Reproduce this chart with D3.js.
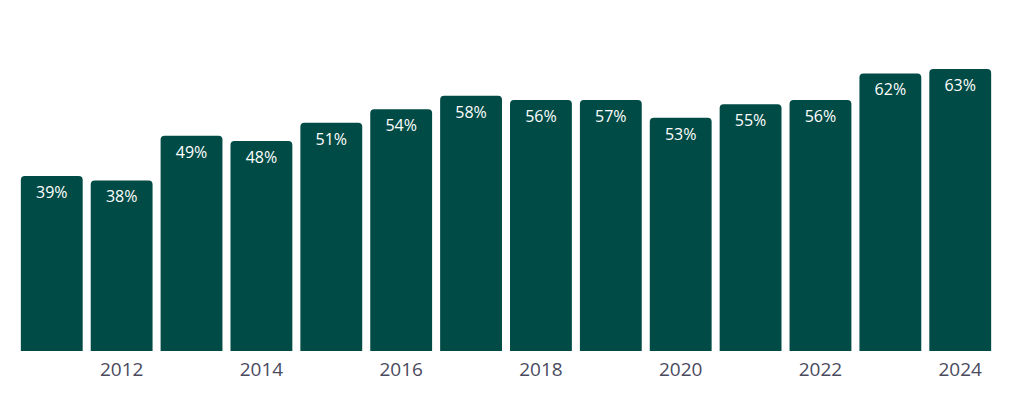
<!DOCTYPE html>
<html>
<head>
<meta charset="utf-8">
<script src="https://cdn.jsdelivr.net/npm/d3@7"></script>
<style>
body { margin: 0; background: #fff; }
</style>
</head>
<body>
<div id="chart_goes_here"></div>
<script>
var years = [2011, 2012, 2013, 2014, 2015, 2016, 2017, 2018, 2019, 2020, 2021, 2022, 2023, 2024];
//bar heights (the printed labels are rounded differently)
var values = [39.1, 38.1, 48.1, 46.9, 51, 54, 57, 56.1, 56.1, 52.1, 55.1, 56.1, 62, 63];
var labels = ['39%', '38%', '49%', '48%', '51%', '54%', '58%', '56%', '57%', '53%', '55%', '56%', '62%', '63%'];
var tick_years = [2012, 2014, 2016, 2018, 2020, 2022, 2024];

var settings = {
	width: 1024,
	height: 399,
	left: 17,
	right: 995,
	bottom: 351,
	bar_colour: '#004b45',
	radius: 4
}

var svg = d3.select('#chart_goes_here')
	.append('svg')
	.attr('width', settings.width)
	.attr('height', settings.height);

var x = d3.scaleBand()
	.domain(years)
	.range([settings.left, settings.right])
	.paddingInner(0.115)
	.paddingOuter(0.055);

var y = d3.scaleLinear()
	.domain([0, 63])
	.range([settings.bottom, 69]);

//bar with rounded top corners only
function bar_path(d, i){
	var x0 = x(years[i]), w = x.bandwidth();
	var y0 = y(d), r = settings.radius;
	return 'M' + x0 + ',' + settings.bottom +
		'V' + (y0 + r) +
		'Q' + x0 + ',' + y0 + ' ' + (x0 + r) + ',' + y0 +
		'H' + (x0 + w - r) +
		'Q' + (x0 + w) + ',' + y0 + ' ' + (x0 + w) + ',' + (y0 + r) +
		'V' + settings.bottom + 'Z';
}

svg.selectAll('.bar')
	.data(values)
	.enter()
	.append('path')
	.attr('class', 'bar')
	.attr('d', bar_path)
	.style('fill', settings.bar_colour);

svg.selectAll('.bar_label')
	.data(values)
	.enter()
	.append('text')
	.attr('class', 'bar_label')
	.attr('x', function(d, i){ return x(years[i]) + x.bandwidth() / 2; })
	.attr('y', function(d){ return y(d) + 22; })
	.attr('text-anchor', 'middle')
	.style('font-family', '"Open Sans", sans-serif')
	.style('font-size', '16px')
	.style('fill', '#ffffff')
	.text(function(d, i){ return labels[i]; });

var x_axis = d3.axisBottom(x)
	.tickValues(tick_years)
	.tickSize(0)
	.tickPadding(12);

var axis_g = svg.append('g')
	.attr('transform', 'translate(0,' + settings.bottom + ')')
	.call(x_axis);

axis_g.select('.domain').remove();
axis_g.selectAll('text')
	.style('font-family', '"Open Sans", sans-serif')
	.style('font-size', '19px')
	.style('fill', '#4a4a5e');
</script>
</body>
</html>
